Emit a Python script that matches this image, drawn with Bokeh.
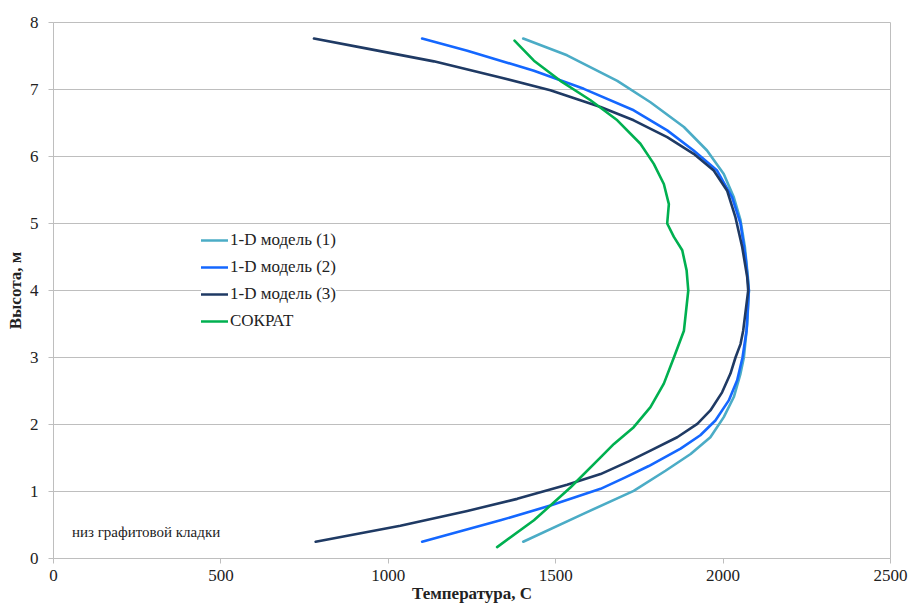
from bokeh.plotting import figure
from bokeh.models import Legend, LegendItem, Label, Range1d, FixedTicker
from bokeh.embed import file_html
from bokeh.resources import INLINE

# 1-D модель (1)
m1_y = [0.25, 0.67, 1.01, 1.31, 1.56, 1.81, 2.11, 2.41, 2.76, 3.00, 3.50, 4.00, 4.20, 4.65, 5.05, 5.39, 5.74, 6.09, 6.44, 6.81, 7.13, 7.51, 7.76]
m1_x = [1403, 1584, 1733, 1828, 1903, 1962, 2002, 2032, 2052, 2062, 2072, 2077, 2074, 2065, 2052, 2032, 2002, 1952, 1883, 1783, 1684, 1534, 1403]
# 1-D модель (2)
m2_y = [0.25, 0.57, 0.79, 1.04, 1.21, 1.38, 1.64, 1.84, 2.06, 2.36, 2.66, 3.00, 3.40, 4.00, 4.50, 5.00, 5.39, 5.79, 6.09, 6.39, 6.69, 7.01, 7.28, 7.58, 7.76]
m2_x = [1101, 1335, 1484, 1634, 1708, 1778, 1873, 1932, 1977, 2017, 2042, 2058, 2070, 2077, 2067, 2052, 2027, 1982, 1912, 1833, 1733, 1584, 1435, 1236, 1101]
# 1-D модель (3)
m3_y = [0.25, 0.49, 0.71, 0.89, 1.10, 1.26, 1.45, 1.61, 1.81, 2.01, 2.21, 2.48, 2.76, 3.00, 3.20, 3.40, 4.00, 4.20, 4.65, 5.09, 5.49, 5.79, 6.04, 6.29, 6.54, 6.74, 6.99, 7.18, 7.42, 7.61, 7.76]
m3_x = [783, 1036, 1236, 1385, 1534, 1634, 1718, 1783, 1863, 1923, 1962, 1997, 2022, 2037, 2052, 2060, 2075, 2072, 2057, 2037, 2012, 1972, 1912, 1833, 1733, 1634, 1484, 1335, 1136, 937, 778]
# СОКРАТ
sk_y = [0.17, 0.57, 1.06, 1.51, 1.71, 1.96, 2.26, 2.61, 3.00, 3.40, 4.00, 4.30, 4.60, 4.80, 5.00, 5.29, 5.59, 5.89, 6.19, 6.54, 6.84, 7.13, 7.43, 7.73]
sk_x = [1325, 1435, 1544, 1634, 1674, 1733, 1783, 1823, 1853, 1883, 1896, 1891, 1878, 1853, 1833, 1838, 1823, 1793, 1753, 1684, 1604, 1514, 1435, 1377]

series_names = ["1-D модель (1)", "1-D модель (2)", "1-D модель (3)", "СОКРАТ"]
series_colors = ["#4BACC6", "#1467FF", "#1F3A64", "#00B050"]
x_ticks = [0, 500, 1000, 1500, 2000, 2500]
y_ticks = [0, 1, 2, 3, 4, 5, 6, 7, 8]

FONT = "Liberation Serif"
GRID = "#BEBEBE"

p = figure(width=912, height=608, output_backend="svg", toolbar_location=None,
           x_range=Range1d(0, 2500), y_range=Range1d(0, 8),
           min_border_left=53, min_border_right=22, min_border_top=22, min_border_bottom=50)
p.outline_line_color = GRID
p.outline_line_width = 1
p.background_fill_color = "white"
p.border_fill_color = "white"

p.xgrid.grid_line_color = None
p.ygrid.grid_line_color = GRID
p.ygrid.grid_line_width = 1

for ax in (p.xaxis[0], p.yaxis[0]):
    ax.axis_line_color = GRID
    ax.major_tick_line_color = GRID
    ax.major_tick_out = 5
    ax.major_tick_in = 0
    ax.minor_tick_line_color = None
    ax.major_label_text_font = FONT
    ax.major_label_text_font_size = "17px"
    ax.major_label_text_color = "#222222"
    ax.axis_label_text_font = FONT
    ax.axis_label_text_font_size = "17px"
    ax.axis_label_text_font_style = "bold"
    ax.axis_label_text_color = "#222222"

p.xaxis.ticker = FixedTicker(ticks=x_ticks)
p.yaxis.ticker = FixedTicker(ticks=y_ticks)
p.xaxis.axis_label = "Температура, С"
p.yaxis.axis_label = "Высота, м"
p.xaxis.major_label_standoff = 6
p.yaxis.major_label_standoff = 10
p.xaxis.axis_label_standoff = 0
p.yaxis.axis_label_standoff = 2

data = [(m1_x, m1_y), (m2_x, m2_y), (m3_x, m3_y), (sk_x, sk_y)]
items = []
for (xs, ys), name, col in zip(data, series_names, series_colors):
    r = p.line(xs, ys, line_color=col, line_width=2.6, line_join="round", line_cap="round")
    items.append(LegendItem(label=name, renderers=[r]))

legend = Legend(items=items, location=(148, 227), orientation="vertical",
                padding=0, margin=0, spacing=7, glyph_width=27, glyph_height=20,
                label_height=20, label_standoff=2,
                label_text_font=FONT, label_text_font_size="17px", label_text_color="#222222",
                border_line_color=None, background_fill_color="white", background_fill_alpha=1.0)
p.add_layout(legend, "center")

note = Label(x=55, y=0.4, text="низ графитовой кладки", text_font=FONT,
             text_font_size="15px", text_color="#222222", text_baseline="middle")
p.add_layout(note)

open("out.html", "w").write(file_html(p, INLINE))
